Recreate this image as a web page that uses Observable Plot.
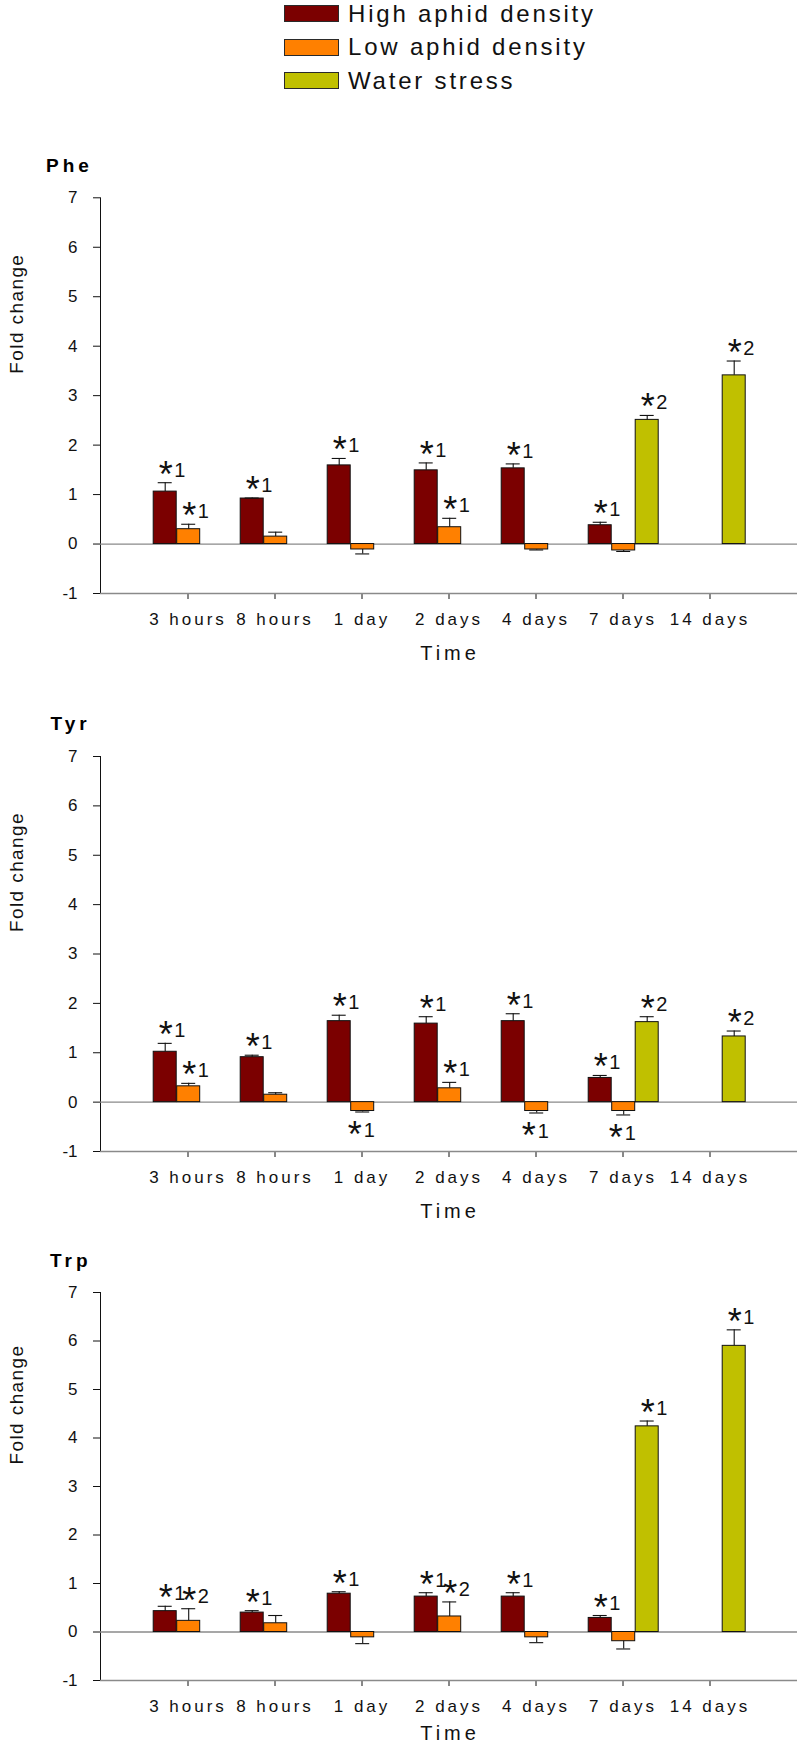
<!DOCTYPE html>
<html><head><meta charset="utf-8">
<script src="https://cdn.jsdelivr.net/npm/d3@7"></script>
<script src="https://cdn.jsdelivr.net/npm/@observablehq/plot@0.6"></script>
<style>
body{margin:0;background:#fff;}
#root{position:relative;width:797px;height:1747px;overflow:hidden;font-family:"Liberation Sans",Arial,sans-serif;color:#000;background:#fff;}
.abs{position:absolute;}
.ptitle{position:absolute;font-weight:bold;font-size:19px;line-height:19px;letter-spacing:4px;}
.legsw{position:absolute;left:284px;width:53px;height:15px;border:1px solid #2a2a2a;}
.legtx{position:absolute;left:348px;font-size:24px;line-height:24px;letter-spacing:2.8px;white-space:nowrap;color:#111;}
g[aria-label="x-axis tick label"] text, g[aria-label="x-axis"] g.tick text{letter-spacing:3px;}
g[aria-description="xlab"] text{letter-spacing:4px;}
g[aria-description="ylab"] text{letter-spacing:1.4px;}
</style>
</head><body>
<div id="root"></div>
<script>
// ---------- data ----------
const times = ["3 hours","8 hours","1 day","2 days","4 days","7 days","14 days"];
const seriesNames = ["High aphid density","Low aphid density","Water stress"];
const seriesColors = ["#7b0000","#ff8000","#c0c000"];
const panelNames = ["Phe","Tyr","Trp"];

// Phe
const pheHigh     = [1.06, 0.92, 1.59, 1.49, 1.53, 0.38, null];
const pheHighErr  = [0.18, 0.01, 0.14, 0.15, 0.09, 0.06, null];
const pheHighSig  = [1, 1, 1, 1, 1, 1, null];
const pheLow      = [0.30, 0.15, -0.11, 0.34, -0.11, -0.13, null];
const pheLowErr   = [0.10, 0.09, 0.09, 0.18, 0.01, 0.02, null];
const pheLowSig   = [1, null, null, 1, null, null, null];
const pheWater    = [null, null, null, null, null, 2.51, 3.41];
const pheWaterErr = [null, null, null, null, null, 0.09, 0.29];
const pheWaterSig = [null, null, null, null, null, 2, 2];

// Tyr
const tyrHigh     = [1.02, 0.91, 1.64, 1.59, 1.64, 0.49, null];
const tyrHighErr  = [0.17, 0.04, 0.12, 0.14, 0.15, 0.05, null];
const tyrHighSig  = [1, 1, 1, 1, 1, 1, null];
const tyrLow      = [0.32, 0.15, -0.18, 0.28, -0.18, -0.18, null];
const tyrLowErr   = [0.06, 0.04, 0.02, 0.12, 0.04, 0.08, null];
const tyrLowSig   = [1, null, 1, 1, 1, 1, null];
const tyrWater    = [null, null, null, null, null, 1.62, 1.33];
const tyrWaterErr = [null, null, null, null, null, 0.11, 0.11];
const tyrWaterSig = [null, null, null, null, null, 2, 2];

// Trp
const trpHigh     = [0.43, 0.40, 0.79, 0.73, 0.73, 0.29, null];
const trpHighErr  = [0.10, 0.04, 0.04, 0.08, 0.08, 0.05, null];
const trpHighSig  = [1, 1, 1, 1, 1, 1, null];
const trpLow      = [0.23, 0.18, -0.11, 0.32, -0.11, -0.19, null];
const trpLowErr   = [0.25, 0.16, 0.13, 0.30, 0.11, 0.16, null];
const trpLowSig   = [2, null, null, 2, null, null, null];
const trpWater    = [null, null, null, null, null, 4.24, 5.90];
const trpWaterErr = [null, null, null, null, null, 0.11, 0.33];
const trpWaterSig = [null, null, null, null, null, 1, 1];

// ---------- helpers ----------
function rowsFor(values, errs, sigs, series){
  return times.map((t,i)=>({time:t, series, value:values[i], err:errs[i], sig:sigs[i]}))
              .filter(d=>d.value!=null);
}
const tip = d => d.value >= 0 ? d.value + d.err : d.value - d.err;

const root = document.getElementById("root");

// legend
seriesNames.forEach((s,k)=>{
  const sw = document.createElement("div");
  sw.className = "legsw";
  sw.style.top = (5 + k*33.5) + "px";
  sw.style.background = seriesColors[k];
  root.appendChild(sw);
  const tx = document.createElement("div");
  tx.className = "legtx";
  tx.style.top = (1.7 + k*33.5) + "px";
  tx.textContent = s;
  root.appendChild(tx);
});

const BAR = 23.5;
const offsets = [-BAR + 0.7, 0.7, BAR + 0.7];

function drawPanel(cfg){
  const t = document.createElement("div");
  t.className = "ptitle";
  t.style.left = cfg.titleX + "px";
  t.style.top = cfg.titleTop + "px";
  t.textContent = cfg.name;
  root.appendChild(t);

  const marks = [
    Plot.ruleY([0], {stroke:"#8a8a8a", strokeWidth:1.3}),
    Plot.ruleY([-1], {stroke:"#8a8a8a", strokeWidth:1.6})
  ];
  cfg.groups.forEach((rows,k)=>{
    const dx = offsets[k];
    marks.push(Plot.barY(rows, {x:"time", y:"value", fill:"series", stroke:"#111", strokeWidth:1, dx}));
    marks.push(Plot.ruleX(rows, {x:"time", y1:"value", y2:tip, dx, stroke:"#111", strokeWidth:1.1}));
    marks.push(Plot.tickY(rows, {x:"time", y:tip, dx, insetLeft:4.5, insetRight:4.5, stroke:"#111", strokeWidth:1.1}));
    const above = rows.filter(d=>d.sig!=null && d.value>=0);
    const below = rows.filter(d=>d.sig!=null && d.value<0);
    marks.push(Plot.text(above, {x:"time", y:tip, text:()=>"*", dx:dx+0.5, dy:4, lineAnchor:"bottom", fontSize:36, fill:"#111"}));
    marks.push(Plot.text(above, {x:"time", y:tip, text:d=>String(d.sig), dx:dx+9, dy:-6, textAnchor:"start", lineAnchor:"bottom", fontSize:20, fill:"#111"}));
    marks.push(Plot.text(below, {x:"time", y:tip, text:()=>"*", dx:dx-8, dy:35, lineAnchor:"bottom", fontSize:36, fill:"#111"}));
    marks.push(Plot.text(below, {x:"time", y:tip, text:d=>String(d.sig), dx:dx+1, dy:25, textAnchor:"start", lineAnchor:"bottom", fontSize:20, fill:"#111"}));
  });
  marks.push(Plot.text(["Fold change"], {text:d=>d, frameAnchor:"left", rotate:-90, dx:-84, dy:-22, fontSize:19, fill:"#111", ariaDescription:"ylab"}));
  marks.push(Plot.text(["Time"], {text:d=>d, frameAnchor:"bottom", lineAnchor:"bottom", dx:1, dy:cfg.timeDy, fontSize:20, fill:"#111", ariaDescription:"xlab"}));

  const svg = Plot.plot({
    width: 797,
    height: cfg.marginTop + cfg.rangeH + cfg.marginBottom,
    marginLeft: 100,
    marginRight: 0,
    marginTop: cfg.marginTop,
    marginBottom: cfg.marginBottom,
    style: {fontFamily:"'Liberation Sans', Arial, sans-serif", fontSize:"17px", color:"#111", background:"transparent", overflow:"visible"},
    x: {domain: times, paddingInner: 0.73, paddingOuter: 0.865, tickSize: 6, tickPadding: 13, label: null},
    y: {domain: [-1, 7], tickSize: 7, tickPadding: 16, line: true, label: null, tickFormat: d => String(d)},
    color: {domain: seriesNames, range: seriesColors},
    marks
  });
  const holder = document.createElement("div");
  holder.className = "abs";
  holder.style.left = "0px";
  holder.style.top = cfg.top + "px";
  holder.appendChild(svg);
  root.appendChild(holder);
}

drawPanel({name:"Phe", titleX:46, titleTop:155.6, top:180, marginTop:17.3, rangeH:395.7, marginBottom:75, timeDy:66,
  groups:[rowsFor(pheHigh,pheHighErr,pheHighSig,seriesNames[0]), rowsFor(pheLow,pheLowErr,pheLowSig,seriesNames[1]), rowsFor(pheWater,pheWaterErr,pheWaterSig,seriesNames[2])]});
drawPanel({name:"Tyr", titleX:50.5, titleTop:714, top:739, marginTop:17, rangeH:395, marginBottom:75, timeDy:66,
  groups:[rowsFor(tyrHigh,tyrHighErr,tyrHighSig,seriesNames[0]), rowsFor(tyrLow,tyrLowErr,tyrLowSig,seriesNames[1]), rowsFor(tyrWater,tyrWaterErr,tyrWaterSig,seriesNames[2])]});
drawPanel({name:"Trp", titleX:50, titleTop:1250.6, top:1275, marginTop:17, rangeH:388, marginBottom:67, timeDy:59,
  groups:[rowsFor(trpHigh,trpHighErr,trpHighSig,seriesNames[0]), rowsFor(trpLow,trpLowErr,trpLowSig,seriesNames[1]), rowsFor(trpWater,trpWaterErr,trpWaterSig,seriesNames[2])]});
</script>
</body></html>
